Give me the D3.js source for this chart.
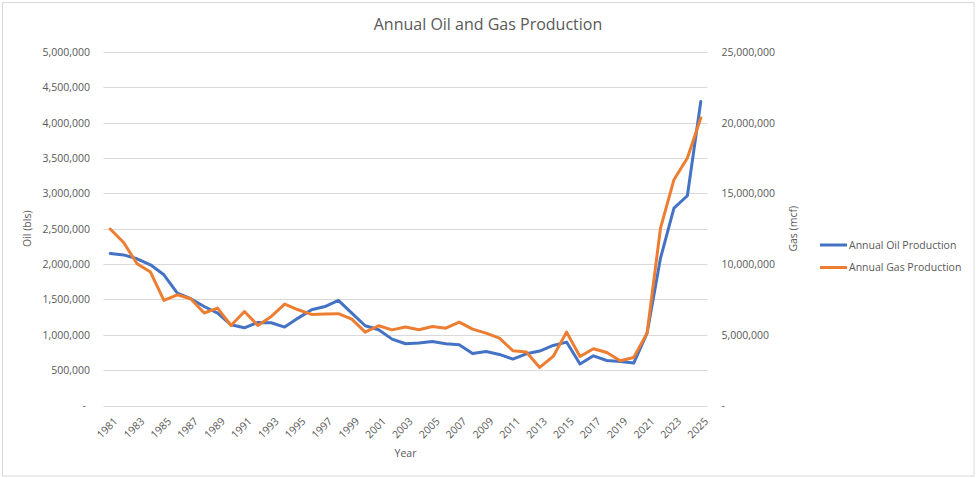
<!DOCTYPE html>
<html>
<head>
<meta charset="utf-8">
<script src="https://cdn.jsdelivr.net/npm/d3@7"></script>
<style>
  html, body { margin: 0; padding: 0; background: #fff; }
  svg { display: block; font-family: "Open Sans", sans-serif; }
</style>
</head>
<body>
<svg id="chart" width="976" height="478"></svg>
<script>
const years = d3.range(1981, 2026);
const oilValues = [
  2150000, 2130000, 2075000, 1990000, 1849000, 1590000, 1510000, 1400000, 1307000, 1142000,
  1099000, 1174000, 1170000, 1109000, 1236000, 1354000, 1400000, 1486000, 1307000, 1128000,
  1071000, 939000, 873000, 883000, 905000, 873000, 859000, 736000, 764000, 722000,
  656000, 731000, 770000, 849000, 897000, 586000, 703000, 637000, 623000, 600000,
  1024000, 2085000, 2793000, 2967000, 4301000
];
const gasValues = [
  12480000, 11530000, 10020000, 9440000, 7430000, 7830000, 7550000, 6540000, 6890000, 5660000,
  6650000, 5660000, 6300000, 7170000, 6770000, 6440000, 6470000, 6490000, 6110000, 5190000,
  5640000, 5350000, 5550000, 5360000, 5590000, 5470000, 5900000, 5400000, 5120000, 4770000,
  3870000, 3780000, 2690000, 3470000, 5190000, 3470000, 4010000, 3750000, 3160000, 3400000,
  5120000, 12550000, 15970000, 17500000, 20330000
];
const oilTicks = [0, 500000, 1000000, 1500000, 2000000, 2500000, 3000000, 3500000, 4000000, 4500000, 5000000];
const gasTicks = [0, 5000000, 10000000, 15000000, 20000000, 25000000];
const xTickYears = years.filter(y => (y - 1981) % 2 === 0);
const seriesNames = ["Annual Oil Production", "Annual Gas Production"];
const colors = ["#4472C4", "#ED7D31"];

(function () {
const textColor = "#595959";
const svg = d3.select("#chart");

// chart border
svg.append("rect").attr("x", 2.5).attr("y", 2.5).attr("width", 971.5).attr("height", 473.5)
  .attr("fill", "#fff").attr("stroke", "#d9d9d9").attr("stroke-width", 1);

const pLeft = 103.5, pRight = 707.5, pTop = 52, pBottom = 405.5;

const x = d3.scalePoint().domain(years).range([pLeft, pRight]).padding(0.5);
const yOil = d3.scaleLinear().domain([0, 5000000]).range([pBottom, pTop]);
const yGas = d3.scaleLinear().domain([0, 25000000]).range([pBottom, pTop]);

const fmt = d3.format(",");

// gridlines
svg.append("g").selectAll("line").data(oilTicks).join("line")
  .attr("x1", pLeft).attr("x2", pRight)
  .attr("y1", d => Math.round(yOil(d)) + 0.5).attr("y2", d => Math.round(yOil(d)) + 0.5)
  .attr("stroke", "#d9d9d9").attr("stroke-width", 1);

// left axis
const leftAxis = d3.axisLeft(yOil).tickValues(oilTicks).tickSize(0).tickPadding(0)
  .tickFormat(d => d === 0 ? "-" : fmt(d));
const gL = svg.append("g").attr("transform", `translate(90,0)`).call(leftAxis);
gL.select(".domain").remove();
gL.selectAll("text").attr("fill", textColor).attr("font-size", "10.5px")
  .attr("font-family", "Open Sans, sans-serif")
  .attr("dx", d => d === 0 ? -4 : 0);

// right axis
const rightAxis = d3.axisRight(yGas).tickValues(gasTicks).tickSize(0).tickPadding(0)
  .tickFormat(d => d === 0 ? "-" : fmt(d));
const gR = svg.append("g").attr("transform", `translate(721.5,0)`).call(rightAxis);
gR.select(".domain").remove();
gR.selectAll("text").attr("fill", textColor).attr("font-size", "10.5px")
  .attr("font-family", "Open Sans, sans-serif");

// x axis labels
const xAxis = d3.axisBottom(x).tickValues(xTickYears).tickSize(0).tickPadding(0);
const gX = svg.append("g").attr("transform", `translate(0,${pBottom})`).call(xAxis);
gX.select(".domain").remove();
gX.selectAll("text")
  .attr("fill", textColor).attr("font-size", "10.5px")
  .attr("font-family", "Open Sans, sans-serif")
  .attr("text-anchor", "end")
  .attr("y", 0).attr("dy", "0.35em")
  .attr("transform", "translate(5,14) rotate(-45)");

// lines
const lineOil = d3.line().x((d, i) => x(years[i])).y(d => yOil(d));
const lineGas = d3.line().x((d, i) => x(years[i])).y(d => yGas(d));
svg.append("path").datum(oilValues).attr("d", lineOil)
  .attr("fill", "none").attr("stroke", colors[0]).attr("stroke-width", 3)
  .attr("stroke-linejoin", "round").attr("stroke-linecap", "round");
svg.append("path").datum(gasValues).attr("d", lineGas)
  .attr("fill", "none").attr("stroke", colors[1]).attr("stroke-width", 3)
  .attr("stroke-linejoin", "round").attr("stroke-linecap", "round");

// title
svg.append("text").attr("x", 488).attr("y", 29.5).attr("text-anchor", "middle")
  .attr("fill", textColor).attr("font-size", "16px").text("Annual Oil and Gas Production");

// axis titles
svg.append("text").attr("transform", `translate(31,${(pTop + pBottom) / 2}) rotate(-90)`)
  .attr("text-anchor", "middle").attr("fill", textColor).attr("font-size", "10.5px")
  .text("Oil (bls)");
svg.append("text").attr("transform", `translate(797,${(pTop + pBottom) / 2}) rotate(-90)`)
  .attr("text-anchor", "middle").attr("fill", textColor).attr("font-size", "10.5px")
  .text("Gas (mcf)");
svg.append("text").attr("x", (pLeft + pRight) / 2).attr("y", 457)
  .attr("text-anchor", "middle").attr("fill", textColor).attr("font-size", "10.5px")
  .text("Year");

// legend
const legend = svg.append("g");
const legY = [245, 267.5];
seriesNames.forEach((name, i) => {
  legend.append("line").attr("x1", 820).attr("x2", 847)
    .attr("y1", legY[i]).attr("y2", legY[i])
    .attr("stroke", colors[i]).attr("stroke-width", 3);
  legend.append("text").attr("x", 849).attr("y", legY[i]).attr("dy", "0.35em")
    .attr("fill", textColor).attr("font-size", "10.5px").text(name);
});
})();
</script>
</body>
</html>
